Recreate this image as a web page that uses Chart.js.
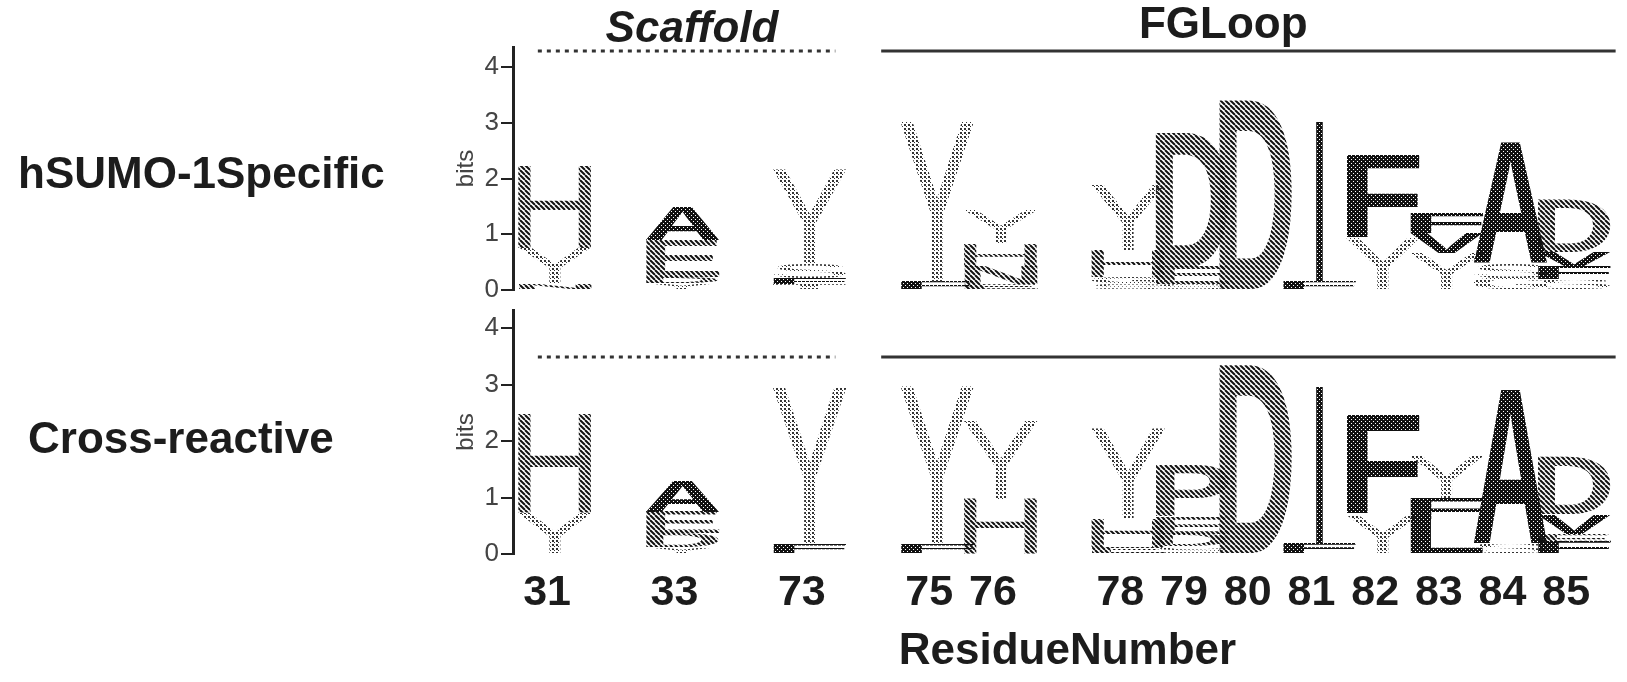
<!DOCTYPE html>
<html><head><meta charset="utf-8">
<script src="https://cdn.jsdelivr.net/npm/chart.js@4"></script>
<style>
html,body{margin:0;padding:0;background:#fff;width:1627px;height:682px;overflow:hidden}
canvas{position:absolute;left:0}
#c1{top:0;width:1627px;height:300px}
#c2{top:300px;width:1627px;height:382px}
</style></head><body>
<canvas id="c1" width="1627" height="300"></canvas>
<canvas id="c2" width="1627" height="382"></canvas>
<script>
// ---------- data ----------
const residues = ['31','33','73','75','76','78','79','80','81','82','83','84','85'];
const slots    = [0, 2, 4, 6, 7, 9, 10, 11, 12, 13, 14, 15, 16];
const yTicks   = [0, 1, 2, 3, 4];

// letters of each column, bottom to top
const specificLetters = ['NYH','YDEA','TFSY','FY','ENHY','SGHY','SED','D','FI','YF','YVF','GSA','SFVD'];
const specificBits = [
  [0.12,0.63,1.46], [0.12,0.12,0.66,0.6], [0.1,0.12,0.26,1.67], [0.15,2.87],
  [0.1,0.32,0.42,0.6], [0.12,0.12,0.48,1.16], [0.1,0.32,2.42], [3.41],
  [0.15,2.87], [0.93,1.49], [0.66,0.36,0.36], [0.22,0.26,2.18], [0.2,0.22,0.27,0.95]
];
const crossLetters = ['YH','YDEA','FY','FY','HY','EHY','SDEP','D','FI','YF','LFY','SA','FEVD'];
const crossBits = [
  [0.72,1.74], [0.12,0.25,0.38,0.56], [0.18,2.77], [0.18,2.78],
  [0.98,1.39], [0.13,0.5,1.59], [0.14,0.22,0.3,0.92], [3.35],
  [0.2,2.76], [0.7,1.76], [0.6,0.4,0.75], [0.2,2.76], [0.22,0.14,0.34,1.02]
];

const regionNames = ['Scaffold', 'FGLoop'];
const regionFrom  = [-0.27, 5.12];
const regionTo    = [4.40, 16.65];
const regionMid   = [2.15, 10.49];

// ---------- styles ----------
const FONT = '"Liberation Sans", Arial, sans-serif';
const letterStyle = {H:'hatch',D:'hatch',E:'hatch',P:'hatch',N:'hatch',Q:'hatch',K:'hatch',R:'hatch',
  Y:'light',S:'light',T:'light',G:'light',C:'light',
  A:'dark',F:'dark',L:'dark',V:'dark',M:'dark',I:'dark',W:'dark'};
const thinLetters = 'YHIS';

function makePattern(type){
  const c = document.createElement('canvas');
  const g = c.getContext('2d');
  if (type === 'hatch'){
    c.width = c.height = 5;
    g.strokeStyle = '#111'; g.lineWidth = 2;
    for (const k of [-5,0,5]){ g.beginPath(); g.moveTo(k,0); g.lineTo(k+5,5); g.stroke(); }
  } else if (type === 'light'){
    c.width = c.height = 4;
    g.fillStyle = '#333';
    g.fillRect(0,0,2,2); g.fillRect(2,2,1,1);
  } else {
    c.width = c.height = 4;
    g.fillStyle = '#111'; g.fillRect(0,0,4,4);
    g.clearRect(1,1,1,1); g.clearRect(3,3,1,1);
  }
  return g.createPattern(c, 'repeat');
}
const patterns = {hatch: makePattern('hatch'), light: makePattern('light'), dark: makePattern('dark')};

function drawGlyph(ctx, ch, x, y, w, h){
  if (!(h > 0.4) || !(w > 0)) return;
  ctx.save();
  ctx.font = (thinLetters.includes(ch) ? '' : 'bold ') + '100px ' + FONT;
  ctx.textAlign = 'left'; ctx.textBaseline = 'alphabetic';
  const m = ctx.measureText(ch);
  const gl = m.actualBoundingBoxLeft, gr = m.actualBoundingBoxRight;
  const ga = m.actualBoundingBoxAscent, gd = m.actualBoundingBoxDescent;
  let tw = w, tx = x;
  if (ch === 'I'){ tw = 7; tx = x + (w - 7) / 2; }
  ctx.translate(tx, y);
  ctx.scale(tw / (gl + gr), h / (ga + gd));
  const pat = patterns[letterStyle[ch] || 'hatch'];
  pat.setTransform(ctx.getTransform().inverse());
  ctx.fillStyle = pat;
  ctx.fillText(ch, gl, ga);
  ctx.restore();
}

const logoPlugin = {
  id: 'logo',
  afterDatasetsDraw(chart){
    const ctx = chart.ctx;
    chart.data.datasets.forEach((ds, i) => {
      const meta = chart.getDatasetMeta(i);
      meta.data.forEach((bar, j) => {
        const ch = ds.letterRow[j];
        if (!ch) return;
        const p = bar.getProps(['x','y','base','width'], true);
        if (!isFinite(p.y) || !isFinite(p.base)) return;
        drawGlyph(ctx, ch, p.x - p.width/2, Math.min(p.y, p.base), p.width, Math.abs(p.base - p.y));
      });
    });
  }
};

function decoPlugin(lineValue, rowLabel, rowX, rowY, withTitles){
  return {
    id: 'deco',
    afterDraw(chart){
      const ctx = chart.ctx, xs = chart.scales.x, ys = chart.scales.y;
      const ly = ys.getPixelForValue(lineValue);
      ctx.save();
      ctx.strokeStyle = '#333'; ctx.lineWidth = 3;
      regionNames.forEach((name, k) => {
        ctx.setLineDash(k === 0 ? [4,5] : []);
        ctx.beginPath();
        ctx.moveTo(xs.getPixelForValue(regionFrom[k]), ly);
        ctx.lineTo(xs.getPixelForValue(regionTo[k]), ly);
        ctx.stroke();
      });
      ctx.setLineDash([]);
      ctx.fillStyle = '#1c1c1c';
      ctx.textBaseline = 'alphabetic';
      if (withTitles){
        ctx.textAlign = 'center';
        ctx.font = 'italic bold 44px ' + FONT;
        ctx.fillText(regionNames[0], xs.getPixelForValue(regionMid[0]), 42);
        ctx.font = 'bold 44px ' + FONT;
        ctx.fillText(regionNames[1], xs.getPixelForValue(regionMid[1]), 38);
      }
      ctx.textAlign = 'left';
      ctx.font = 'bold 44px ' + FONT;
      ctx.fillText(rowLabel, rowX, rowY);
      ctx.restore();
    }
  };
}

function buildDatasets(letters, bits){
  const n = Math.max(...letters.map(s => s.length));
  const out = [];
  for (let i = 0; i < n; i++){
    out.push({
      data: slots.map((s, j) => ({x: s, y: bits[j][i] !== undefined ? bits[j][i] : null})),
      letterRow: letters.map(s => s[i] || ''),
      backgroundColor: 'rgba(0,0,0,0)', borderWidth: 0, barThickness: 74
    });
  }
  return out;
}

function makeChart(id, letters, bits, cfg){
  return new Chart(document.getElementById(id), {
    type: 'bar',
    data: {datasets: buildDatasets(letters, bits)},
    options: {
      responsive: false, animation: false,
      layout: {padding: cfg.padding},
      plugins: {legend: {display: false}, tooltip: {enabled: false}},
      scales: {
        x: {
          type: 'linear', min: -0.66, max: 16.75, offset: false, stacked: true, display: cfg.showX,
          grid: {display: false, drawTicks: false, offset: false}, border: {display: false},
          afterBuildTicks: s => { s.ticks = slots.map(v => ({value: v})); },
          afterFit: s => { if (cfg.showX) s.height = 128; },
          ticks: {autoSkip: false, maxRotation: 0, minRotation: 0, labelOffset: -8, padding: 13,
            font: {family: FONT, size: 43, weight: 'bold'}, color: '#1c1c1c',
            callback: v => { const k = slots.indexOf(v); return k >= 0 ? residues[k] : ''; }},
          title: {display: true, text: 'ResidueNumber', color: '#1c1c1c',
            font: {family: FONT, size: 44, weight: 'bold'}, padding: {top: 0, bottom: 4}}
        },
        y: {
          type: 'linear', min: 0, max: cfg.ymax, stacked: true,
          afterFit: s => { s.width = 73; },
          afterBuildTicks: s => { s.ticks = yTicks.map(v => ({value: v})); },
          grid: {drawOnChartArea: false, drawTicks: true, tickLength: 12, color: '#222', lineWidth: 2},
          border: {display: true, color: '#222', width: 3},
          ticks: {padding: 2, color: '#444', font: {family: FONT, size: 26, lineHeight: 0.5}},
          title: {display: true, text: 'bits', color: '#444', font: {family: FONT, size: 24},
            padding: {top: 12, bottom: 0}}
        }
      }
    },
    plugins: [logoPlugin, cfg.deco]
  });
}

makeChart('c1', specificLetters, specificBits, {
  padding: {left: 440, right: 5, top: 47, bottom: 10}, ymax: 4.36, showX: false,
  deco: decoPlugin(4.29, 'hSUMO-1Specific', 18, 188, true)
});
makeChart('c2', crossLetters, crossBits, {
  padding: {left: 440, right: 5, top: 10, bottom: 0}, ymax: 4.32, showX: true,
  deco: decoPlugin(3.49, 'Cross-reactive', 28, 153, false)
});
</script></body></html>
